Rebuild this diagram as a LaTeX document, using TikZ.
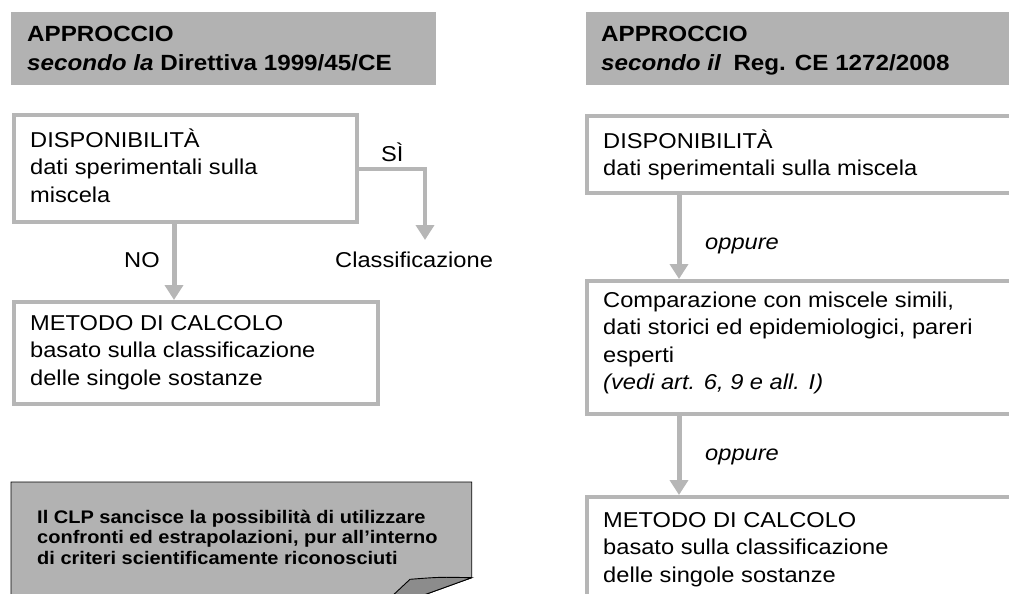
\documentclass[tikz,border=0pt]{standalone}
\usepackage{fontspec}
\setmainfont{Liberation Sans}
\newfontfamily\bodyfont{Liberation Sans}[FakeStretch=1.1]
\usepackage{tikz}
\usetikzlibrary{arrows.meta}
\usetikzlibrary{positioning}
\definecolor{headgray}{RGB}{178,178,178}
\definecolor{boxgray}{RGB}{182,182,182}
\definecolor{foldgray}{RGB}{140,140,140}

\tikzset{
    box/.style={draw=boxgray, line width=4pt, fill=white, anchor=north west, inner sep=0pt},
    txt/.style={anchor=north west, inner sep=0pt, align=left,
        font=\bodyfont\fontsize{21.5}{27.5}\selectfont},
    headtxt/.style={anchor=north west, inner sep=0pt, align=left,
        font=\bodyfont\fontsize{22}{29}\selectfont\bfseries},
    calltxt/.style={anchor=north west, inner sep=0pt, align=left,
        font=\bodyfont\fontsize{18.2}{20.7}\selectfont\bfseries},
    lbl/.style={anchor=base west, inner sep=0pt, font=\bodyfont\fontsize{21.5}{27.5}\selectfont},
    arrow/.style={draw=boxgray, line width=5pt, -{Triangle[width=18pt,length=15pt]}},
}

\begin{document}
\begin{tikzpicture}[x=1pt, y=-1pt]
    \useasboundingbox (0,0) rectangle (1009,594);
    \clip (0,0) rectangle (1009,594);

    % headers
    \fill[headgray] ( 11,12) rectangle ( 436,85);
    \fill[headgray] (586,12) rectangle (1020,85);
    \node[headtxt] (lhead) at ( 27,20.7) {\strut APPROCCIO\\\textit{secondo la} Direttiva 1999/45/CE};
    \node[headtxt] (rhead) at (601,20.7) {\strut APPROCCIO\\\textit{secondo il}\hspace{0.25em} Reg. CE 1272/2008};

    % left column
    \node[box, minimum width=343pt, minimum height=107pt] (lbox1) at (12,113) {};
    \node[txt] (ldisp) at (30,127.75) {\strut DISPONIBILITÀ\\dati sperimentali sulla\\miscela};
    \node[box, minimum width=364pt, minimum height=102pt] (lbox2) at (12,300) {};
    \node[txt] (lcalc) at (30,310.75) {\strut METODO DI CALCOLO\\basato sulla classificazione\\delle singole sostanze};

    \node[lbl] (si)      at (381,161) {SÌ};
    \node[lbl] (no)      at (124,267) {NO};
    \node[lbl] (classif) at (335,267) {Classificazione};
    \coordinate (sitip) at (425,240);
    \draw[arrow, line width=4pt] (lbox1.east) -| (sitip);
    \draw[arrow] ([xshift=-11.5pt]lbox1.south) -- ([xshift=-11.5pt]lbox1.south |- lbox2.north);

    % note
    \filldraw[fill=headgray, draw=black, line width=0.9pt]
        (11,482) -- (471.7,482) -- (471.7,577.7) -- (374,613) -- (11,625) -- cycle;
    \filldraw[fill=foldgray, draw=black, line width=0.9pt]
        (471.7,577.7) .. controls (440,577) .. (410,579.3) -- (374,613) -- cycle;
    \node[calltxt] (note) at (37,508.5) {\strut Il CLP sancisce la possibilità di utilizzare\\confronti ed estrapolazioni, pur all’interno\\di criteri scientificamente riconosciuti};

    % right column
    \node[box, minimum width=445pt, minimum height=77pt]  (rbox1) at (585,114) {};
    \node[txt] (rdisp) at (603,128.75) {\strut DISPONIBILITÀ\\dati sperimentali sulla miscela};
    \node[box, minimum width=445pt, minimum height=133pt] (rbox2) at (585,279) {};
    \node[txt] (rcomp) at (603,287.75) {\strut Comparazione con miscele simili,\\dati storici ed epidemiologici, pareri\\esperti\\\textit{(vedi art. 6, 9 e all. I)}};
    \node[box, minimum width=445pt, minimum height=130pt] (rbox3) at (585,495) {};
    \node[txt] (rcalc) at (603,507.75) {\strut METODO DI CALCOLO\\basato sulla classificazione\\delle singole sostanze};

    \coordinate (rx) at (679,0);
    \draw[arrow] (rbox1.south -| rx) -- (rbox2.north -| rx);
    \draw[arrow] (rbox2.south -| rx) -- (rbox3.north -| rx);
    \node[lbl] (or1) at (705,249) {\itshape oppure};
    \node[lbl] (or2) at (705,460) {\itshape oppure};
\end{tikzpicture}
\end{document}
